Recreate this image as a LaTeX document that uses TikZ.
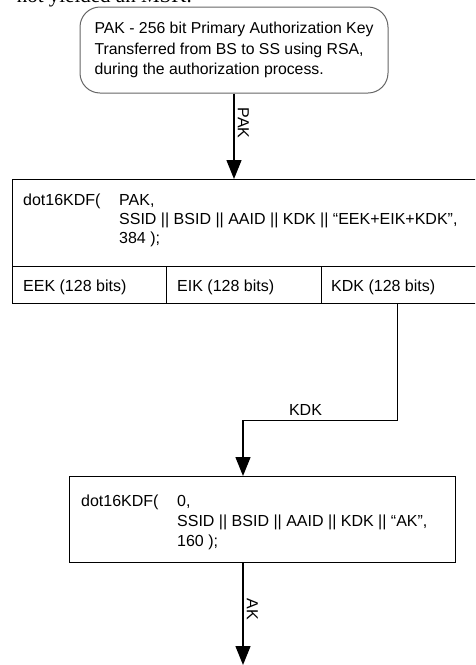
\documentclass[tikz,border=0pt]{standalone}
\usepackage{fontspec}
\setmainfont{Liberation Sans}
\newfontfamily\cutserif{Liberation Serif}
\usetikzlibrary{arrows.meta}
\begin{document}
\begin{tikzpicture}[x=1pt,y=-1pt,
  txt/.style={font=\fontsize{16}{19}\selectfont, inner sep=0pt, anchor=base west},
  lbl/.style={font=\fontsize{16}{19}\selectfont, inner sep=0pt},
  box/.style={draw, line width=1.3pt, inner sep=0pt, anchor=north west},
  conn/.style={line width=1.4pt, -{Triangle[length=19pt,width=15pt]}}]
\useasboundingbox (0,0) rectangle (475,665);
\clip (0,0) rectangle (475,665);
% clipped text of the page above
\node[font=\cutserif\fontsize{21}{24}\selectfont, inner sep=0pt, anchor=base east] (cut) at (192,2) {not yielded an MSK.};
% PAK box
\node[draw=black!60, line width=1pt, rounded corners=20pt, minimum width=308pt, minimum height=86pt,
      align=left, font=\fontsize{15.8}{20.5}\selectfont, inner sep=0pt] (pak) at (234,50)
  {PAK - 256 bit Primary Authorization Key\\Transferred from BS to SS using RSA,\\during the authorization process.};
% first KDF box
\node[box, minimum width=464pt, minimum height=87pt] (kdf1) at (12,179) {};
\node[box, minimum width=154pt, minimum height=37pt] (eek) at (12,266) {};
\node[box, minimum width=155pt, minimum height=37pt] (eik) at (166,266) {};
\node[box, minimum width=155pt, minimum height=37pt] (kdk) at (321,266) {};
\node[txt] (f1a) at (23,205) {dot16KDF(};
\node[txt] (f1b) at (119,205) {PAK,};
\node[txt] (f1c) at (119,224) {SSID || BSID || AAID || KDK || “EEK+EIK+KDK”,};
\node[txt] (f1d) at (119,243) {384 );};
\node[txt] (t1) at (23,291) {EEK (128 bits)};
\node[txt] (t2) at (177,291) {EIK (128 bits)};
\node[txt] (t3) at (331,291) {KDK (128 bits)};
% second KDF box
\node[box, minimum width=386pt, minimum height=86pt] (kdf2) at (69,476) {};
\node[txt] (f2a) at (81,506) {dot16KDF(};
\node[txt] (f2b) at (177,506) {0,};
\node[txt] (f2c) at (177,526) {SSID || BSID || AAID || KDK || “AK”,};
\node[txt] (f2d) at (177,546) {160 );};
% connectors
\draw[conn] (pak.south) -- (pak.south |- kdf1.north);
\node[lbl, rotate=-90] (lpak) at (243.5,123) {PAK};
\draw[conn] ([xshift=-1.5pt]kdk.south) -- ++(0,116) -| ([xshift=174pt]kdf2.north west);
\node[lbl] (lkdk) at (305.5,410) {KDK};
\coordinate (akend) at (243,665);
\draw[conn] ([xshift=174pt]kdf2.south west) -- (akend);
\node[lbl, rotate=-90] (lak) at (252.5,609) {AK};
\end{tikzpicture}
\end{document}
